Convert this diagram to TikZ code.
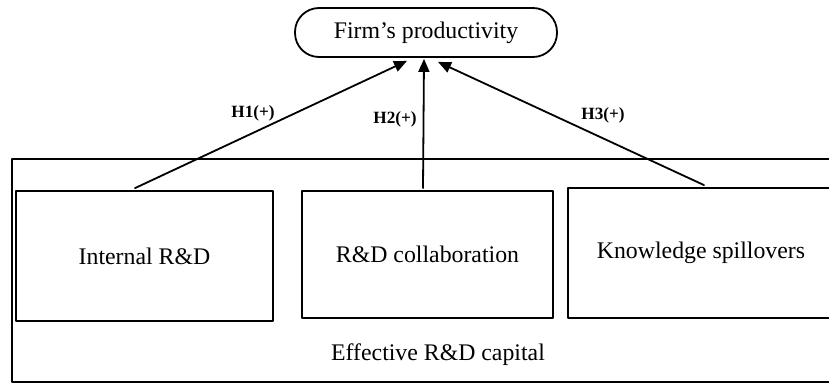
\documentclass[tikz,border=0pt]{standalone}
\usepackage{fontspec}
\setmainfont{Liberation Serif}
\usetikzlibrary{calc}
\usetikzlibrary{arrows.meta}
\tikzstyle{every node}=[font=\fontsize{11.9}{13}\selectfont]
\tikzstyle{every path}=[line width=0.9pt,line cap=round,line join=round]

\begin{document}
\begin{tikzpicture}[x=0.5pt,y=-0.5pt]
		\tikzstyle{arrow} = [-{Triangle[length=6.5pt, width=5.5pt]}]
		\tikzstyle{factor} = [draw,rectangle,inner sep=0pt]
		\tikzstyle{hyp} = [font=\fontsize{8.6}{10}\selectfont\bfseries]
		
		\useasboundingbox (0,0) rectangle (829,385);
		
		% outer frame
		\draw (12,159) rectangle (860,382);
		\node (capital) at (438,355) {Effective R\&D capital};
		
		\node[draw,rounded corners=12pt,minimum width=131pt,minimum height=24.5pt] (firm) at (426,32.5) {Firm’s productivity};
		
		\node[factor,minimum width=128.5pt,minimum height=65pt] (internal) at (144.5,256) {Internal R\&D};
		\node[factor,minimum width=125.5pt,minimum height=63.5pt] (collab) at (427.5,254.5) {R\&D collaboration};
		\node[factor,minimum width=133pt,minimum height=65pt] (spill) at (701,253) {Knowledge spillovers};
		
		\draw[arrow] ($(internal.north)+(-9.5,-2)$) -- ($(firm.south)+(-19,3)$);
		\draw[arrow] ($(collab.north)+(-4.5,-2)$) -- ($(firm.south)+(-2,1)$);
		\draw[arrow] ($(spill.north)+(3,-2)$) -- ($(firm.south)+(12,4)$);
		
		\node[hyp] (h1) at (253,113) {H1(+)};
		\node[hyp] (h2) at (395,119) {H2(+)};
		\node[hyp] (h3) at (603,115) {H3(+)};
		
	\end{tikzpicture}
\end{document}
